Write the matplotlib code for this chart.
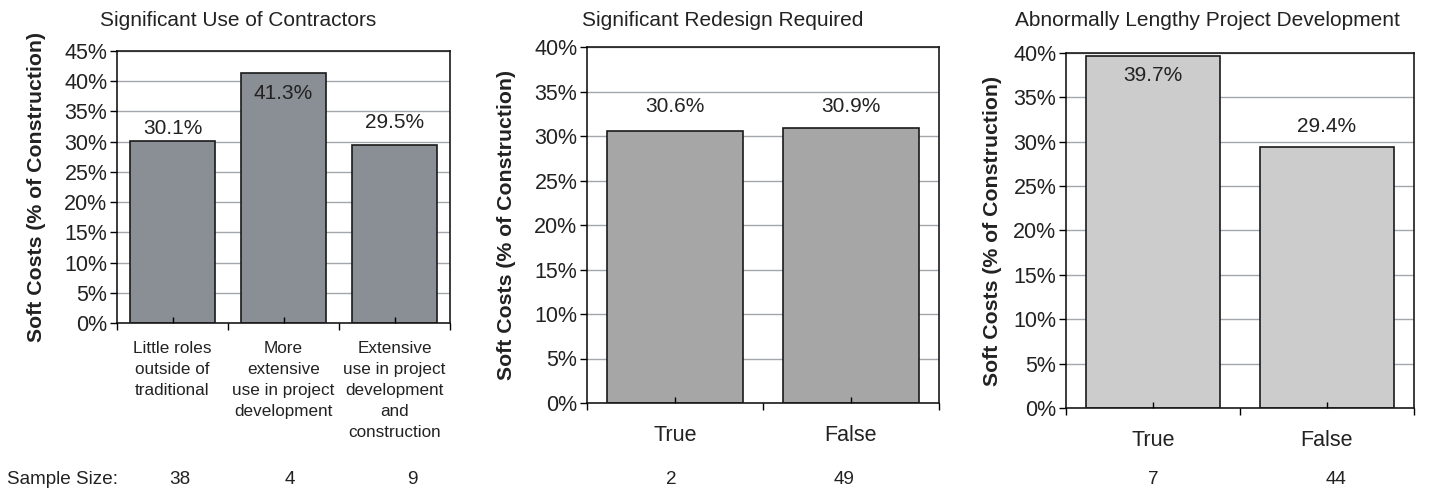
import matplotlib.pyplot as plt
from matplotlib.ticker import FixedLocator, FuncFormatter

plt.rcParams['font.family'] = ['Liberation Sans', 'DejaVu Sans']

W, H = 1429, 491

# soft costs by project characteristic
contractor_cats = ['Little roles\noutside of\ntraditional',
                   'More\nextensive\nuse in project\ndevelopment',
                   'Extensive\nuse in project\ndevelopment\nand\nconstruction']
contractor_vals = [30.1, 41.3, 29.5]
contractor_n = [38, 4, 9]

redesign_cats = ['True', 'False']
redesign_vals = [30.6, 30.9]
redesign_n = [2, 49]

lengthy_cats = ['True', 'False']
lengthy_vals = [39.7, 29.4]
lengthy_n = [7, 44]

panels = [
    dict(title='Significant Use of Contractors', cats=contractor_cats, vals=contractor_vals,
         n=contractor_n, ymax=45, color='#898f95', box=(117, 51, 450, 323), tx=238,
         offs=[13, -20, 22], catsize=12.3, catpad=13, npos=[180, 290, 412], ylx=37),
    dict(title='Significant Redesign Required', cats=redesign_cats, vals=redesign_vals,
         n=redesign_n, ymax=40, color='#a6a6a6', box=(587, 47, 939, 403), tx=723,
         offs=[24, 21], catsize=15.5, catpad=16, npos=[671, 844], ylx=507),
    dict(title='Abnormally Lengthy Project Development', cats=lengthy_cats, vals=lengthy_vals,
         n=lengthy_n, ymax=40, color='#cccccc', box=(1066, 53, 1414, 408), tx=1207,
         offs=[-20, 21], catsize=15.5, catpad=16, npos=[1153, 1336], ylx=992),
]

fig = plt.figure(figsize=(W / 100, H / 100), dpi=100)

for p in panels:
    x0, y0, x1, y1 = p['box']
    ax = fig.add_axes([x0 / W, 1 - y1 / H, (x1 - x0) / W, (y1 - y0) / H])
    k = len(p['vals'])
    xs = list(range(k))
    ax.bar(xs, p['vals'], width=0.77, color=p['color'], edgecolor='#1a1a1a',
           linewidth=1.2, zorder=2)
    ax.set_xlim(-0.5, k - 0.5)
    ax.set_ylim(0, p['ymax'])
    yt = list(range(0, p['ymax'] + 1, 5))
    ax.yaxis.set_major_locator(FixedLocator(yt))
    ax.yaxis.set_major_formatter(FuncFormatter(lambda v, pos: f'{v:.0f}%'))
    # gridlines sit behind the bars, ticks stay on top of them
    ax.hlines(yt, -0.5, k - 0.5, color='#a3a7ab', linewidth=1.0, zorder=1)
    ax.set_axisbelow(False)
    ax.tick_params(axis='y', direction='out', length=5, width=1, labelsize=15.5, pad=2,
                   labelcolor='#222222')

    # category boundaries get outward ticks, centres get inward ticks with the labels
    ax.xaxis.set_major_locator(FixedLocator([i - 0.5 for i in range(k + 1)]))
    ax.xaxis.set_major_formatter(FuncFormatter(lambda v, pos: ''))
    ax.xaxis.set_minor_locator(FixedLocator(xs))
    ax.set_xticklabels(p['cats'], minor=True, fontsize=p['catsize'],
                       linespacing=1.5, va='top', color='#222222')
    ax.tick_params(axis='x', which='major', direction='out', length=5, width=1)
    ax.tick_params(axis='x', which='minor', direction='in', length=4, width=1,
                   pad=p['catpad'])
    for s in ax.spines.values():
        s.set_linewidth(1.2)
        s.set_color('#1a1a1a')

    for x, v, off in zip(xs, p['vals'], p['offs']):
        ax.annotate(f'{v:.1f}%', (x, v), xytext=(0, off * 0.72), textcoords='offset points',
                    ha='center', va='center', fontsize=15, color='#222222', zorder=4)

    fig.text(p['tx'] / W, 1 - 20 / H, p['title'], ha='center', va='center',
             fontsize=15, color='#222222')
    fig.text(p['ylx'] / W, 1 - (y0 + y1) / 2 / H, 'Soft Costs (% of Construction)',
             rotation=90, ha='center', va='center', fontsize=15.3, fontweight='bold',
             color='#222222')
    for px, n in zip(p['npos'], p['n']):
        fig.text(px / W, 1 - 480 / H, str(n), ha='center', va='center', fontsize=13.6,
                 color='#222222')

fig.text(7 / W, 1 - 480 / H, 'Sample Size:', ha='left', va='center', fontsize=13.6,
         color='#222222')

fig.savefig('out.png', dpi=100, facecolor='white')
